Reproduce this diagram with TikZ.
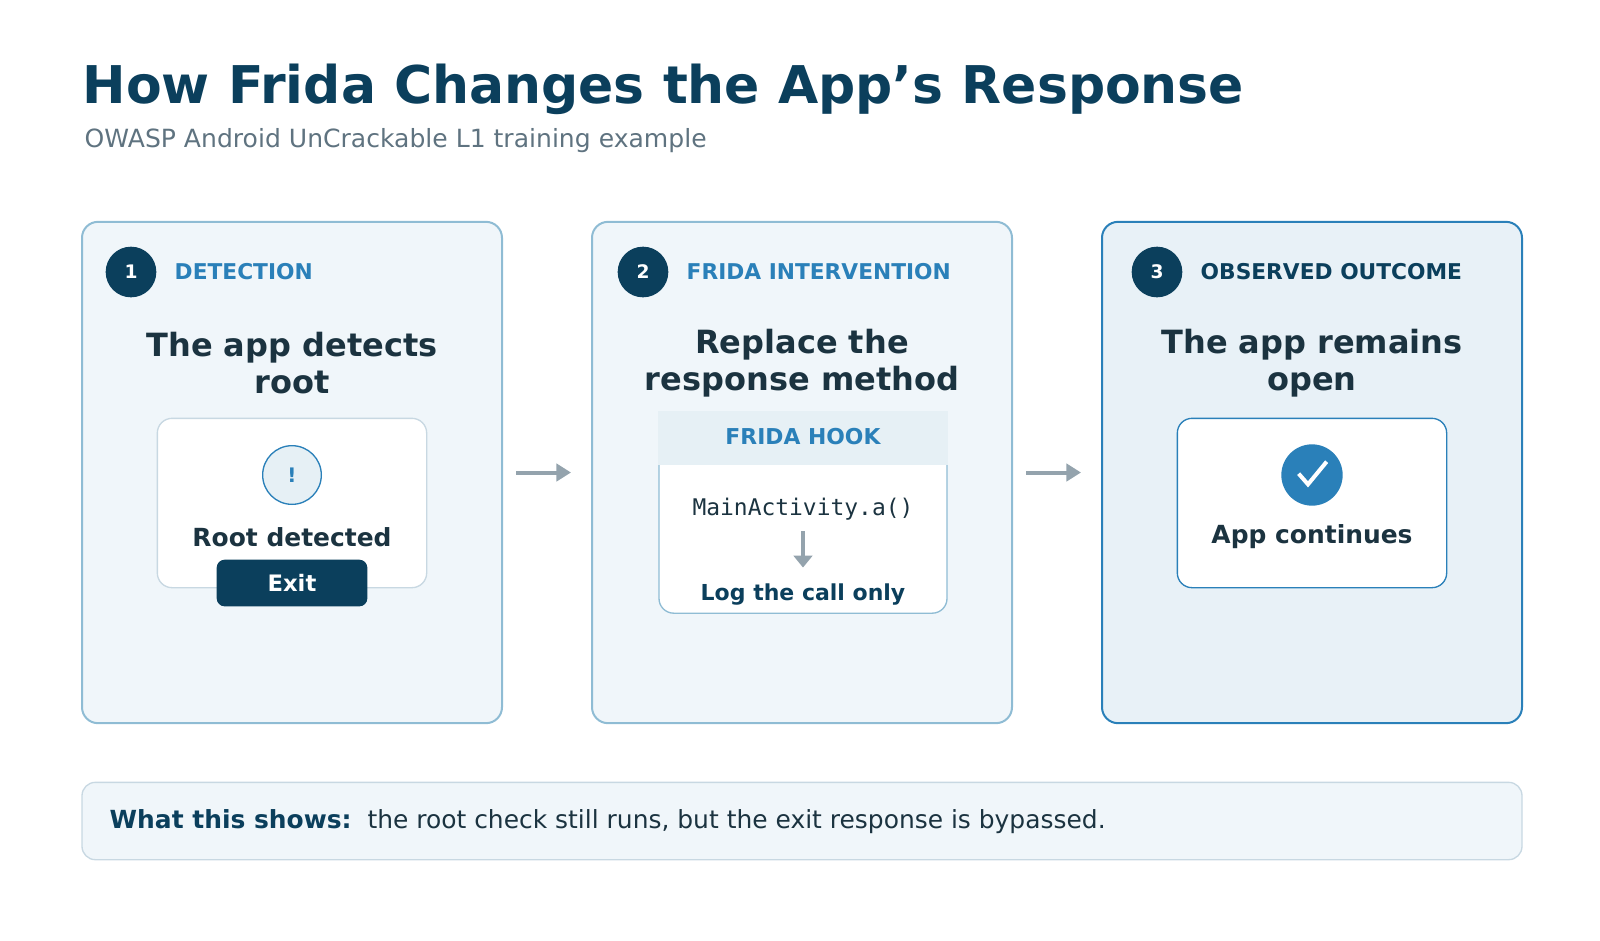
\documentclass[tikz,border=0pt]{standalone}
\usepackage{fontspec}
\setmainfont{DejaVu Sans}
\setmonofont{DejaVu Sans Mono}
\usetikzlibrary{arrows.meta}
\definecolor{navy}{HTML}{0B3F5C}
\definecolor{ink}{HTML}{1B3340}
\definecolor{accent}{HTML}{2A80B9}
\definecolor{soft}{HTML}{F0F6FA}
\definecolor{softer}{HTML}{E8F1F7}
\definecolor{edge}{HTML}{8FBCD4}
\definecolor{pale}{HTML}{C8D8E2}
\definecolor{band}{HTML}{E6F0F5}
\definecolor{subgray}{HTML}{5F7380}
\definecolor{flow}{HTML}{94A3AD}
\tikzset{
  card/.style={draw=edge,line width=1.5pt,fill=soft,rounded corners=12pt,minimum width=315pt,minimum height=376pt,inner sep=0pt},
  inner/.style={draw=pale,line width=1pt,fill=white,rounded corners=11pt,minimum width=202pt,minimum height=127pt,inner sep=0pt},
  badge/.style={circle,fill=navy,minimum size=38pt,inner sep=0pt,text=white,font=\bfseries\fontsize{14}{14}\selectfont},
  tag/.style={anchor=west,font=\bfseries\fontsize{16.3}{16}\selectfont,text=accent},
  heading/.style={align=center,text=ink,font=\bfseries\fontsize{24}{28}\selectfont},
  label/.style={text=ink,font=\bfseries\fontsize{18.7}{18}\selectfont},
  flowarrow/.style={draw=flow,line width=3pt,-{Triangle[length=11pt,width=13pt]}}
}
\begin{document}
\begin{tikzpicture}[x=0.75pt,y=-0.75pt]
\useasboundingbox (0,0) rectangle (1600,940);
% title
\node[anchor=base west,text=navy,font=\bfseries\fontsize{39}{39}\selectfont] (title) at (78,103) {How Frida Changes the App’s Response};
\node[anchor=base west,text=subgray,font=\fontsize{18.8}{18}\selectfont] (subtitle) at (80,147) {OWASP Android UnCrackable L1 training example};
% cards
\node[card] (c1) at (292,472.5) {};
\node[card] (c2) at (802,472.5) {};
\node[card,fill=softer,draw=accent] (c3) at (1312,472.5) {};
% step 1
\node[badge] (b1) at (131,272) {1};
\node[tag] (t1) at (170,272) {DETECTION};
\node[heading] (h1) at (292,363) {The app detects\\root};
\node[inner] (i1) at (292,503) {};
\node[circle,draw=accent,fill=band,line width=1pt,minimum size=44pt,inner sep=0pt,text=accent,font=\bfseries\fontsize{15}{15}\selectfont] (warn) at (292,475) {!};
\node[label] (r1) at (292,537) {Root detected};
\node[fill=navy,rounded corners=6pt,minimum width=113pt,minimum height=35pt,text=white,font=\bfseries\fontsize{17}{17}\selectfont] (exit) at (292,583) {Exit};
% step 2
\node[badge] (b2) at (643,272) {2};
\node[tag] (t2) at (682,272) {FRIDA INTERVENTION};
\node[heading] (h2) at (802,363) {Replace the\\response method};
\node[inner,draw=edge,minimum width=216pt,minimum height=151pt] (i2) at (803,512.5) {};
\fill[band] (i2.north west) rectangle ([yshift=-40pt]i2.north east);
\node[text=accent,font=\bfseries\fontsize{16.4}{16}\selectfont] (hook) at (803,437) {FRIDA HOOK};
\node[text=ink,font=\ttfamily\fontsize{17.2}{17}\selectfont] (call) at (803,509) {MainActivity.a()};
\node[text=navy,font=\bfseries\fontsize{16.5}{16}\selectfont] (log) at (803,595) {Log the call only};
\draw[draw=flow,line width=2.5pt,-{Triangle[length=9pt,width=14pt]}] ([yshift=-5pt]call.south) -- ([yshift=9pt]log.north);
% step 3
\node[badge] (b3) at (1157,272) {3};
\node[tag,text=navy] (t3) at (1196,272) {OBSERVED OUTCOME};
\node[heading] (h3) at (1312,363) {The app remains\\open};
\node[inner,draw=accent] (i3) at (1312,503) {};
\node[circle,fill=accent,minimum size=46pt,inner sep=0pt] (ok) at (1312,475) {};
\draw[white,line width=3pt] ([shift={(-10pt,1pt)}]ok.center) -- ([shift={(-3pt,-7pt)}]ok.center) -- ([shift={(11pt,10pt)}]ok.center);
\node[label] (r3) at (1312,537) {App continues};
% flow
\draw[flowarrow] ([xshift=10pt]c1.east) -- ([xshift=-15pt]c2.west);
\draw[flowarrow] ([xshift=10pt]c2.east) -- ([xshift=-15pt]c3.west);
% summary
\node[draw=pale,line width=1pt,fill=soft,rounded corners=10pt,minimum width=1080pt,minimum height=58pt] (sum) at (802,821) {};
\node[anchor=west,text=ink,font=\fontsize{18.7}{18}\selectfont] (sumtext) at (105,822) {\textcolor{navy}{\bfseries What this shows:}\ \ the root check still runs, but the exit response is bypassed.};
\end{tikzpicture}
\end{document}
